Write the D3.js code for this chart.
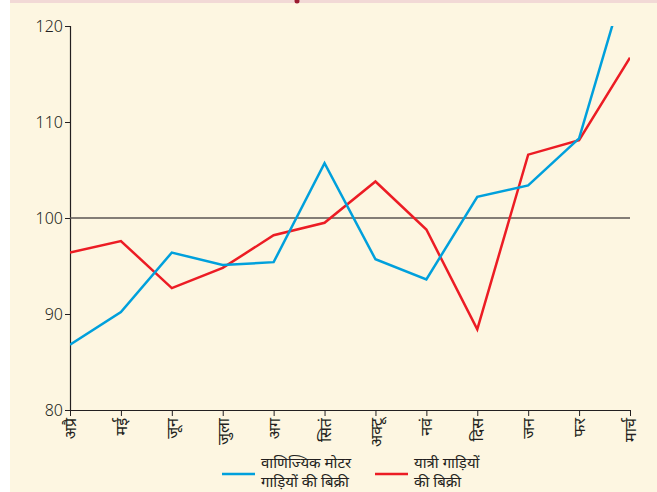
<!DOCTYPE html>
<html>
<head>
<meta charset="utf-8">
<script src="https://cdnjs.cloudflare.com/ajax/libs/d3/7.8.5/d3.min.js"></script>
<style>
  body { margin: 0; background: #fff; }
  svg { display: block; }
  text { font-family: "Noto Sans", "DejaVu Sans", sans-serif; fill: #231f20; }
</style>
</head>
<body>
<div id="chart"></div>
<script>
const months = ['अप्रै', 'मई', 'जून', 'जुला', 'अग', 'सितं', 'अक्टू', 'नवं', 'दिस', 'जन', 'फर', 'मार्च'];
const commercial = [86.8, 90.2, 96.4, 95.1, 95.4, 105.7, 95.7, 93.6, 102.2, 103.4, 108.3, 126.3];
const passenger = [96.4, 97.6, 92.7, 94.8, 98.2, 99.5, 103.8, 98.8, 88.4, 106.6, 108.1, 116.7];
const yTicks = [80, 90, 100, 110, 120];
const legendLabels = [['वाणिज्यिक मोटर', 'गाड़ियों की बिक्री'], ['यात्री गाड़ियों', 'की बिक्री']];

const width = 657, height = 492;
const margin = {top: 26, right: 27, bottom: 82, left: 70};

const svg = d3.select('#chart')
  .append('svg')
  .attr('width', width)
  .attr('height', height);

// page background
svg.append('rect').attr('width', width).attr('height', height).attr('fill', '#fff');
svg.append('rect').attr('x', 10).attr('width', width - 10).attr('height', height).attr('fill', '#fdf6e1');
svg.append('rect').attr('x', 10).attr('width', width - 10).attr('height', 3).attr('fill', '#f2d9d6');
svg.append('circle').attr('cx', 297).attr('cy', 1).attr('r', 2.5).attr('fill', '#9b1b30');

const x = d3.scalePoint()
  .domain(months)
  .range([margin.left, width - margin.right]);

const y = d3.scaleLinear()
  .domain([80, 120])
  .range([height - margin.bottom, margin.top]);

svg.append('defs').append('clipPath').attr('id', 'plot')
  .append('rect')
  .attr('x', margin.left).attr('y', margin.top)
  .attr('width', width - margin.left - margin.right)
  .attr('height', height - margin.top - margin.bottom);

// y axis
const yAxis = svg.append('g')
  .attr('transform', `translate(${margin.left},0)`)
  .call(d3.axisLeft(y).tickValues(yTicks).tickSize(5).tickPadding(2));
yAxis.select('.domain').attr('stroke', '#231f20').attr('stroke-width', 1.2);
yAxis.selectAll('.tick line').attr('stroke', '#231f20');
yAxis.selectAll('text').attr('font-size', 16).attr('fill', '#231f20')
  .attr('font-family', '"DejaVu Serif", serif').attr('font-weight', 300);

// x axis
const xAxis = svg.append('g')
  .attr('transform', `translate(0,${height - margin.bottom})`)
  .call(d3.axisBottom(x).tickSize(6).tickSizeOuter(0));
xAxis.select('.domain').attr('stroke', '#231f20').attr('stroke-width', 1.2);
xAxis.selectAll('.tick line').attr('stroke', '#231f20');
xAxis.selectAll('text')
  .attr('font-size', 16)
  .attr('fill', '#231f20')
  .attr('text-anchor', 'end')
  .attr('transform', 'rotate(-90)')
  .attr('x', -8)
  .attr('y', 0)
  .attr('dy', '0.35em');

// reference line at 100
svg.append('line')
  .attr('x1', x(months[0])).attr('x2', x(months[months.length - 1]))
  .attr('y1', y(100)).attr('y2', y(100))
  .attr('stroke', '#5a5552').attr('stroke-width', 1.5);

const line = d3.line()
  .x((d, i) => x(months[i]))
  .y(d => y(d));

const plot = svg.append('g').attr('clip-path', 'url(#plot)');

plot.append('path')
  .datum(passenger)
  .attr('d', line)
  .attr('fill', 'none')
  .attr('stroke', '#ec1c24')
  .attr('stroke-width', 2.5)
  .attr('stroke-linejoin', 'miter');

plot.append('path')
  .datum(commercial)
  .attr('d', line)
  .attr('fill', 'none')
  .attr('stroke', '#00a0dc')
  .attr('stroke-width', 2.5)
  .attr('stroke-linejoin', 'miter');

// legend
const legend = [
  {color: '#00a0dc', x: 222, lines: legendLabels[0]},
  {color: '#ec1c24', x: 375, lines: legendLabels[1]}
];
legend.forEach(l => {
  svg.append('line')
    .attr('x1', l.x).attr('x2', l.x + 33)
    .attr('y1', 474).attr('y2', 474)
    .attr('stroke', l.color).attr('stroke-width', 2.5);
  const g = svg.append('g').attr('font-size', 15);
  l.lines.forEach((t, i) => {
    g.append('text')
      .attr('x', l.x + 39)
      .attr('y', 468 + i * 19)
      .text(t);
  });
});
</script>
</body>
</html>
